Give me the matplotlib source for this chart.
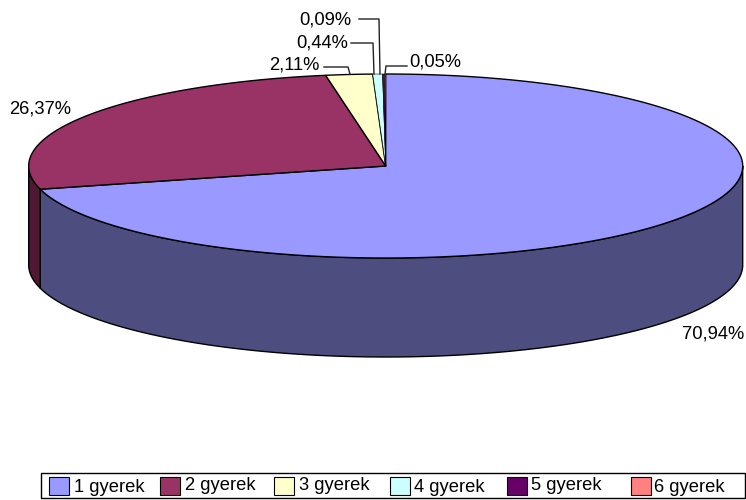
import numpy as np
import matplotlib
matplotlib.use("Agg")
import matplotlib.pyplot as plt
from matplotlib.patches import Polygon, Rectangle

plt.rcParams["font.family"] = ["Liberation Sans", "DejaVu Sans"]

categories = ["1 gyerek", "2 gyerek", "3 gyerek", "4 gyerek", "5 gyerek", "6 gyerek"]
values = [70.94, 26.37, 2.11, 0.44, 0.09, 0.05]
value_labels = ["70,94%", "26,37%", "2,11%", "0,44%", "0,09%", "0,05%"]
colors = ["#9999FF", "#993366", "#FFFFCC", "#CCFFFF", "#660066", "#FF8080"]
side_colors = ["#4D4D80", "#4D1933", "#808066", "#668080", "#330033", "#804040"]

# pie geometry in pixels
cx, cy = 385.7, 166
rx, ry = 357, 92
depth = 99


def ellipse_points(t0, t1):
    # angle runs clockwise from the top of the ellipse
    t = np.radians(np.linspace(t0, t1, max(int(abs(t1 - t0) * 2), 2) + 1))
    return np.column_stack([cx + rx * np.sin(t), cy - ry * np.cos(t)])


fig = plt.figure(figsize=(7.46, 5), dpi=100)
ax = fig.add_axes([0, 0, 1, 1])
ax.set_xlim(0, 746)
ax.set_ylim(500, 0)
ax.axis("off")

cum = np.concatenate([[0], np.cumsum(values)])
angles = cum / cum[-1] * 360

# side walls, only the front half of the ellipse shows
for i in range(len(values)):
    a0 = max(angles[i], 90)
    a1 = min(angles[i + 1], 270)
    if a1 <= a0:
        continue
    top = ellipse_points(a0, a1)
    bottom = top[::-1] + [0, depth]
    ax.add_patch(Polygon(np.vstack([top, bottom]), closed=True, fc=side_colors[i],
                         ec="black", lw=1, joinstyle="round"))

# top faces, thinner outline on the tiny slices so their colour still shows
for i in range(len(values)):
    arc = ellipse_points(angles[i], angles[i + 1])
    lw = 1 if values[i] > 1 else 0.4
    ax.add_patch(Polygon(np.vstack([[cx, cy], arc]), closed=True, fc=colors[i],
                         ec="black", lw=lw, joinstyle="round"))

# data labels
label_font = 13.2
ax.text(744, 334, value_labels[0], ha="right", va="center", fontsize=label_font, color="black")
ax.text(9, 109, value_labels[1], ha="left", va="center", fontsize=label_font, color="black")
ax.text(319, 65, value_labels[2], ha="right", va="center", fontsize=label_font, color="black")
ax.text(348, 43, value_labels[3], ha="right", va="center", fontsize=label_font, color="black")
ax.text(351, 20, value_labels[4], ha="right", va="center", fontsize=label_font, color="black")
ax.text(409, 62, value_labels[5], ha="left", va="center", fontsize=label_font, color="black")

# leader lines
ax.plot([324, 348, 350], [67, 67, 74], color="#222222", lw=1)
ax.plot([351, 373, 374], [43, 43, 74], color="#222222", lw=1)
ax.plot([359, 379, 380], [19, 19, 74], color="#222222", lw=1)
ax.plot([407, 386, 385], [66, 66, 74], color="#222222", lw=1)

# legend box
ax.add_patch(Rectangle((41, 473), 704, 25, fc="white", ec="black", lw=1))
swatch_x = [49, 160, 274, 390, 507, 631]
text_x = [74, 185, 299, 414, 531, 654]
text_y = [487, 485, 486, 487, 485, 488]
for i, name in enumerate(categories):
    ax.add_patch(Rectangle((swatch_x[i], 477), 20, 18, fc=colors[i], ec="black", lw=0.8))
    ax.text(text_x[i], text_y[i], name, ha="left", va="center", fontsize=13.2, color="black")

fig.savefig("out.png", dpi=100)
